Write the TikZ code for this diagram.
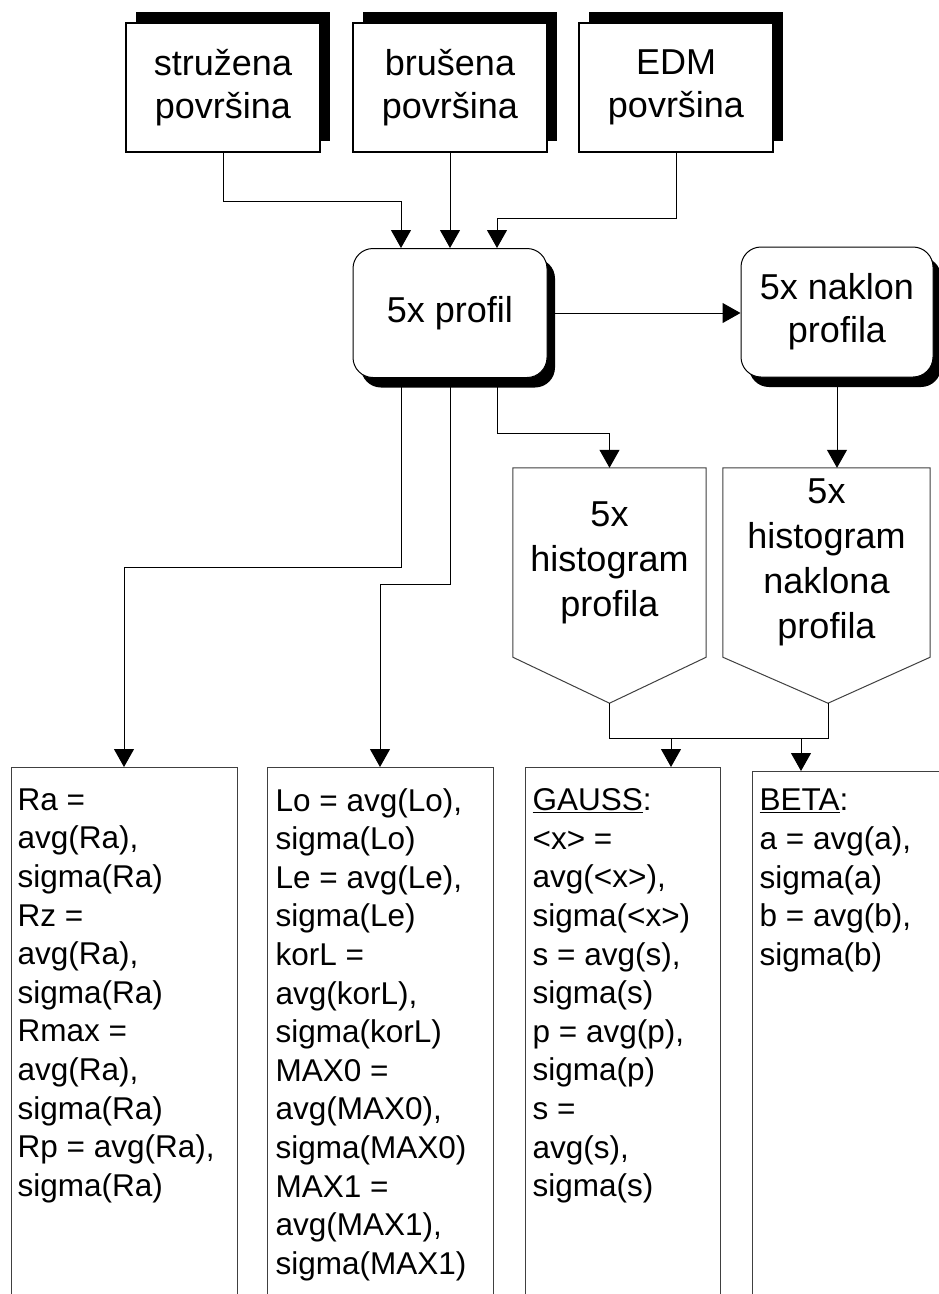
\documentclass[tikz,border=0pt]{standalone}
\usepackage{fontspec}
\setmainfont{Liberation Sans}
\usetikzlibrary{positioning,shadows,arrows.meta}

\tikzset{
  surface/.style={draw, line width=1.5pt, fill=white, inner sep=0pt,
    minimum width=194pt, minimum height=129pt, align=center,
    font=\fontsize{36}{43}\selectfont,
    drop shadow={shadow xshift=10pt, shadow yshift=11pt, fill=black, opacity=1}},
  profbox/.style={draw, line width=1pt, fill=white, rounded corners=20pt, inner sep=0pt,
    minimum height=129pt, align=center, font=\fontsize{36}{43}\selectfont,
    drop shadow={shadow xshift=8pt, shadow yshift=-10pt, fill=black, opacity=1}},
  hist/.style={draw=black!75, line width=1pt},
  histtxt/.style={inner sep=0pt, minimum height=189pt, align=center,
    font=\fontsize{36}{45}\selectfont},
  resbox/.style={draw=black!75, line width=1pt, anchor=north, minimum height=600pt},
  restxt/.style={anchor=north west, inner sep=0pt, align=left,
    font=\fontsize{31.5}{38.6}\selectfont},
  arr/.style={-{Triangle[width=20pt,length=18pt]}, line width=1pt},
  conn/.style={line width=1pt}
}

\begin{document}
\begin{tikzpicture}[x=1pt, y=-1pt]
    \useasboundingbox[fill=white] (0,0) rectangle (938,1294);

    % ulazne povrsine
    \node[surface] (s1) at (223,87.5) {stružena\\površina};
    \node[surface] (s2) at (450,87.5) {brušena\\površina};
    \node[surface] (s3) at (676,87.5) {EDM\\površina};

    % profili
    \node[profbox, minimum width=194pt] (pr) at (450,313) {5x profil};
    \node[profbox, minimum width=192pt, minimum height=130pt] (nk) at (837,312) {5x naklon\\profila};

    % histogrami
    \node[histtxt, minimum width=193pt] (hp) at (609.5,562.5) {5x\\histogram\\profila};
    \node[histtxt, minimum width=207pt] (hn) at (826.5,562.5) {5x\\histogram\\naklona\\profila};
    \draw[hist] (hp.north west) -- (hp.north east) -- (hp.south east)
        -- ([yshift=-46pt]hp.south) coordinate (hptip) -- (hp.south west) -- cycle;
    \draw[hist] (hn.north west) -- (hn.north east) -- (hn.south east)
        -- ([yshift=-46pt,xshift=1.5pt]hn.south) coordinate (hntip) -- (hn.south west) -- cycle;

    % rezultati
    \node[resbox, minimum width=226pt] (ra) at (124,767) {};
    \node[resbox, minimum width=226pt] (lo) at (380,767) {};
    \node[resbox, minimum width=195pt] (ga) at (622.5,767) {};
    \node[resbox, minimum width=248pt] (be) at (876,771) {};
    \node[restxt] (ratxt) at ([xshift=7pt,yshift=-21.5pt]ra.north west)
        {Ra =\\avg(Ra),\\sigma(Ra)\\Rz =\\avg(Ra),\\sigma(Ra)\\Rmax =\\avg(Ra),\\sigma(Ra)\\Rp = avg(Ra),\\sigma(Ra)};
    \node[restxt] (lotxt) at ([xshift=9pt,yshift=-21pt]lo.north west)
        {Lo = avg(Lo),\\sigma(Lo)\\Le = avg(Le),\\sigma(Le)\\korL =\\avg(korL),\\sigma(korL)\\MAX0 =\\avg(MAX0),\\sigma(MAX0)\\MAX1 =\\avg(MAX1),\\sigma(MAX1)};
    \node[restxt] (gatxt) at ([xshift=8pt,yshift=-21.5pt]ga.north west)
        {\underline{GAUSS}:\\<x> =\\avg(<x>),\\sigma(<x>)\\s = avg(s),\\sigma(s)\\p = avg(p),\\sigma(p)\\s =\\avg(s),\\sigma(s)};
    \node[restxt] (betxt) at ([xshift=8pt,yshift=-18pt]be.north west)
        {\underline{BETA}:\\a = avg(a),\\sigma(a)\\b = avg(b),\\sigma(b)};

    % veze
    \draw[arr] (s1.south) -- ++(0,49) -| ([xshift=-49pt]pr.north);
    \draw[arr] (s2.south) -- (pr.north);
    \draw[arr] (s3.south) -- ++(0,66) -| ([xshift=47pt]pr.north);
    \draw[arr] (pr.east) -- (pr.east -| nk.west);
    \draw[arr] ([xshift=47pt]pr.south) -- ++(0,55) -| (hp.north);
    \draw[arr] (nk.south) -- (nk.south |- hn.north);
    \draw[arr] ([xshift=-49pt]pr.south) -- ++(0,189) -| (ra.north);
    \draw[arr] (pr.south) -- ++(0,206) -| (lo.north);
    \draw[conn] (hptip) -- ++(0,35) coordinate (m0) -| (hntip);
    \coordinate (m1) at (671,738);
    \coordinate (m2) at (801,738);
    \draw[arr] (m1) -- (m1 |- ga.north);
    \draw[arr] (m2) -- (m2 |- be.north);
\end{tikzpicture}
\end{document}
